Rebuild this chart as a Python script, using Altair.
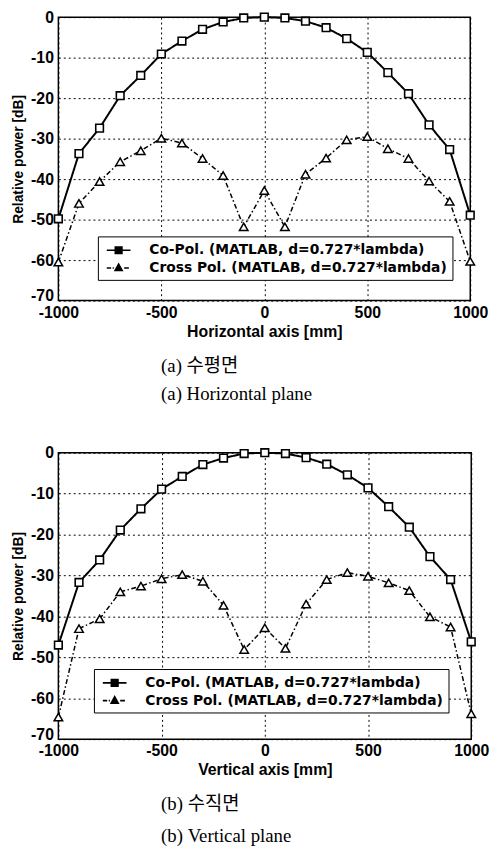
import altair as alt
import pandas as pd

# ---- data ----
x_mm = [-1000, -900, -800, -700, -600, -500, -400, -300, -200, -100, 0,
        100, 200, 300, 400, 500, 600, 700, 800, 900, 1000]

h_co = [-49.8, -33.7, -27.4, -19.4, -14.4, -9.1, -5.9, -3.0, -1.2, -0.2, 0.0,
        -0.2, -1.0, -2.6, -5.3, -8.7, -13.7, -18.9, -26.6, -32.7, -48.9]
h_cross = [-60.5, -46.0, -40.6, -35.7, -33.0, -29.9, -31.1, -34.9, -39.1, -51.8, -42.8,
           -51.8, -38.8, -34.8, -30.3, -29.5, -32.5, -34.9, -40.5, -45.5, -60.3]

v_co = [-47.0, -31.7, -26.2, -18.9, -13.7, -8.9, -5.8, -2.9, -1.3, -0.2, 0.0,
        -0.2, -1.2, -2.8, -5.4, -8.6, -13.2, -18.2, -25.4, -31.0, -46.2]
v_cross = [-64.6, -43.0, -40.6, -34.0, -32.6, -30.8, -29.8, -31.4, -37.3, -48.1, -42.8,
           -47.8, -37.0, -31.0, -29.3, -30.2, -31.8, -33.7, -40.1, -42.6, -63.8]

series_names = ["Co-Pol. (MATLAB, d=0.727*lambda)",
                "Cross Pol. (MATLAB, d=0.727*lambda)"]
x_ticks = [-1000, -500, 0, 500, 1000]
y_ticks = [0, -10, -20, -30, -40, -50, -60, -70]
x_title_h = "Horizontal axis [mm]"
x_title_v = "Vertical axis [mm]"
y_title = "Relative power [dB]"
captions_h = ["(a) 수평면", "(a) Horizontal plane"]
captions_v = ["(b) 수직면", "(b) Vertical plane"]

SANS = "Liberation Sans"
LEGFONT = "DejaVu Sans"
SERIF = "Liberation Serif, Noto Sans CJK KR"

# legend symbols: line + marker drawn as custom paths
path_co = "M-1.5,0H-0.42M0.42,0H1.5M-0.42,-0.42H0.42V0.42H-0.42Z"
path_cross = ("M-1.5,0H-0.95M-0.75,0H-0.6M0,-0.5L0.45,0.32H-0.45Z"
              "M0.7,0H1.3")


def panel(co, cross, xtitle, caption, w, h, lx, ly, cap_lh, cap_off):
    n = len(x_mm)
    df = pd.DataFrame({
        "x": x_mm + x_mm,
        "y": co + cross,
        "series": [series_names[0]] * n + [series_names[1]] * n,
    })
    base = alt.Chart(df)
    x = alt.X("x:Q",
              scale=alt.Scale(domain=[-1000, 1000], nice=False, zero=False),
              axis=alt.Axis(values=x_ticks, title=xtitle,
                            labelExpr="toString(datum.value)",
                            labelFont=SANS, labelFontWeight="bold", labelFontSize=16,
                            labelColor="black", labelPadding=4,
                            labelOverlap=False, labelFlush=False,
                            titleFont=SANS, titleFontWeight="bold", titleFontSize=16,
                            titleColor="black", titlePadding=3,
                            ticks=False, domain=False,
                            grid=True, gridColor="black", gridDash=[2, 3],
                            gridWidth=1, gridOpacity=1))
    y = alt.Y("y:Q",
              scale=alt.Scale(domain=[-70, 0], nice=False, zero=False),
              axis=alt.Axis(values=y_ticks, title=y_title,
                            labelExpr="toString(datum.value)",
                            labelFont=SANS, labelFontWeight="bold", labelFontSize=16,
                            labelColor="black", labelPadding=5,
                            labelBaseline={"condition": {"test": "datum.value == -70",
                                                         "value": "alphabetic"},
                                           "value": "middle"},
                            labelOverlap=False, labelFlush=False,
                            titleFont=SANS, titleFontWeight="bold", titleFontSize=14,
                            titleColor="black", titlePadding=5,
                            ticks=False, domain=False,
                            grid=True, gridColor="black", gridDash=[2, 3],
                            gridWidth=1, gridOpacity=1))

    # zero-size layer that only carries the legend (custom line+marker symbols)
    legend = alt.Legend(title=None, orient="none", legendX=lx, legendY=ly,
                        labelFont=LEGFONT, labelFontWeight="bold", labelFontSize=14,
                        labelColor="black", labelLimit=0, labelOffset=22,
                        symbolSize=256, symbolOffset=7, symbolStrokeWidth=1.6,
                        symbolOpacity=1,
                        strokeColor="black", fillColor="white",
                        padding=5, rowPadding=2)
    leg = base.mark_point(filled=False, fill="black", stroke="black",
                          strokeWidth=1.6, opacity=1, size=0).encode(
        x=x, y=y,
        shape=alt.Shape("series:N",
                        scale=alt.Scale(domain=series_names,
                                        range=[path_co, path_cross]),
                        legend=legend),
    )

    lines = base.mark_line(color="black").encode(
        x=x, y=y,
        strokeDash=alt.StrokeDash("series:N",
                                  scale=alt.Scale(domain=series_names,
                                                  range=[[1, 0], [5, 2.5, 1.5, 2.5]]),
                                  legend=None),
        strokeWidth=alt.StrokeWidth("series:N",
                                    scale=alt.Scale(domain=series_names, range=[2, 1.5]),
                                    legend=None),
    )
    pts_co = base.mark_point(shape="square", size=60, filled=True, fill="white",
                             stroke="black", strokeWidth=1.6, opacity=1).encode(
        x=x, y=y).transform_filter(alt.datum.series == series_names[0])
    pts_cross = base.mark_point(shape="triangle-up", size=75, filled=True, fill="white",
                                stroke="black", strokeWidth=1.5, opacity=1).encode(
        x=x, y=y).transform_filter(alt.datum.series == series_names[1])

    return alt.layer(leg, lines, pts_co, pts_cross).properties(
        width=w, height=h,
        title=alt.TitleParams(text=caption, orient="bottom", anchor="start",
                              frame="group", dx=104, font=SERIF, fontSize=19,
                              fontWeight="normal", color="black",
                              lineHeight=cap_lh, offset=cap_off),
    )


top = panel(h_co, h_cross, x_title_h, captions_h, 417, 287, 40, 222, 29, 18)
bottom = panel(v_co, v_cross, x_title_v, captions_v, 418, 290, 36, 219, 32, 18)

chart = alt.vconcat(top, bottom, spacing=39,
                    padding={"left": 3, "top": -5, "right": 0, "bottom": 0}).resolve_scale(
    shape="independent"
).resolve_legend(shape="independent").configure(
    background="white"
).configure_view(stroke="black", strokeWidth=1.5)

chart.save("out.html", embed_options={"renderer": "svg", "actions": False})
